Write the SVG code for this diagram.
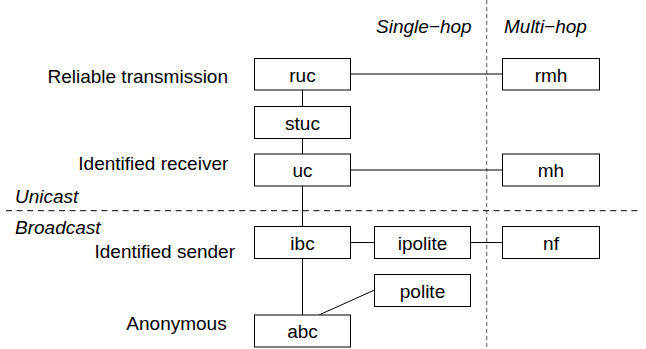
<svg xmlns="http://www.w3.org/2000/svg" width="646" height="349" viewBox="0 0 646 349">
  <style>
    .box rect { fill: #ffffff; stroke: #000000; stroke-width: 1; }
    .box text, .lbl { font-family: "Liberation Sans", Arial, sans-serif; font-size: 19px; fill: #000000; }
    .box text { text-anchor: middle; }
    .lbl { text-anchor: end; }
    .it { font-family: "Liberation Sans", Arial, sans-serif; font-size: 19px; font-style: italic; fill: #000000; }
    .conn line { stroke: #000000; stroke-width: 1; }
    .hsep { stroke: #000000; stroke-width: 1; stroke-dasharray: 6 4.6; }
    .vsep { stroke: #808080; stroke-width: 1.3; stroke-dasharray: 4 3; }
  </style>

  <rect width="646" height="349" fill="#ffffff"/>

  <!-- region separators -->
  <line class="vsep" x1="486.7" y1="0" x2="486.7" y2="349"/>
  <line class="hsep" x1="6" y1="210.7" x2="642" y2="210.7"/>

  <!-- column and region headings -->
  <text class="it" x="376" y="33.3">Single−hop</text>
  <text class="it" x="504" y="33.3">Multi−hop</text>
  <text class="it" x="15" y="202.7">Unicast</text>
  <text class="it" x="15" y="234.3">Broadcast</text>

  <!-- row labels -->
  <text class="lbl" x="228" y="82.5">Reliable transmission</text>
  <text class="lbl" x="228.3" y="170">Identified receiver</text>
  <text class="lbl" x="235" y="258.3">Identified sender</text>
  <text class="lbl" x="226.7" y="330">Anonymous</text>

  <!-- connectors -->
  <g id="connectors" class="conn">
    <line x1="302.5" y1="90" x2="302.5" y2="106.5"/>
    <line x1="302.5" y1="138.5" x2="302.5" y2="154"/>
    <line x1="302.5" y1="186" x2="302.5" y2="226.5"/>
    <line x1="302.5" y1="258.5" x2="302.5" y2="315"/>
    <line x1="350.5" y1="74" x2="502.5" y2="74"/>
    <line x1="350.5" y1="170" x2="502.5" y2="170"/>
    <line x1="350.5" y1="242.5" x2="374.5" y2="242.5"/>
    <line x1="470.5" y1="242.5" x2="502.5" y2="242.5"/>
    <line x1="319" y1="315" x2="374.5" y2="290"/>
  </g>

  <!-- nodes -->
  <g id="ruc" class="box"><rect x="254.5" y="58.5" width="96" height="31.5"/><text x="302.5" y="81.5">ruc</text></g>
  <g id="stuc" class="box"><rect x="254.5" y="106.5" width="96" height="32"/><text x="302.5" y="129.5">stuc</text></g>
  <g id="uc" class="box"><rect x="254.5" y="154" width="96" height="32"/><text x="302.5" y="177">uc</text></g>
  <g id="ibc" class="box"><rect x="254.5" y="226.5" width="96" height="32"/><text x="302.5" y="249.5">ibc</text></g>
  <g id="abc" class="box"><rect x="254.5" y="315" width="96" height="32"/><text x="302.5" y="338">abc</text></g>
  <g id="ipolite" class="box"><rect x="374.5" y="226.5" width="96" height="32"/><text x="422.5" y="249.5">ipolite</text></g>
  <g id="polite" class="box"><rect x="374.5" y="274.5" width="96" height="32"/><text x="422.5" y="297.5">polite</text></g>
  <g id="rmh" class="box"><rect x="502.5" y="58.5" width="97" height="31.5"/><text x="551" y="81.5">rmh</text></g>
  <g id="mh" class="box"><rect x="502.5" y="154" width="97" height="32"/><text x="551" y="177">mh</text></g>
  <g id="nf" class="box"><rect x="502.5" y="226.5" width="97" height="32"/><text x="551" y="249.5">nf</text></g>
</svg>
